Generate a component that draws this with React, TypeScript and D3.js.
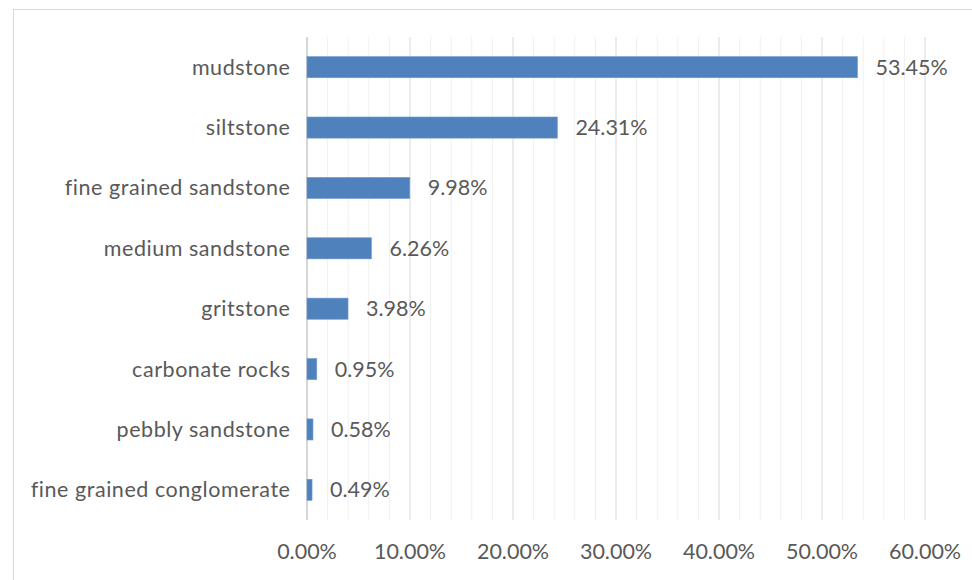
import React from "react";
import * as d3 from "d3";

const categories = [
  "mudstone",
  "siltstone",
  "fine grained sandstone",
  "medium sandstone",
  "gritstone",
  "carbonate rocks",
  "pebbly sandstone",
  "fine grained conglomerate",
];
const values = [53.45, 24.31, 9.98, 6.26, 3.98, 0.95, 0.58, 0.49];
const majorTicks = [0, 10, 20, 30, 40, 50, 60];
const minorTicks = d3.range(0, 61, 2);

const W = 972;
const H = 580;
const left = 307;
const right = 925;
const top = 37;
const bottom = 520;
const FONT = "Lato, 'Open Sans', sans-serif";
const TEXT = "#595959";
const FS = 21.5;

export default function App() {
  const x = d3.scaleLinear().domain([0, 60]).range([left, right]);
  const y = d3
    .scaleBand<string>()
    .domain(categories)
    .range([top, bottom])
    .paddingInner(0.65)
    .paddingOuter(0.325);
  return (
    <svg
      width={W}
      height={H}
      style={{ position: "absolute", left: 0, top: 0, background: "#fff" }}
    >
      <rect x={13.5} y={9.5} width={W} height={H} fill="#fff" stroke="#d9d9d9" />
      {minorTicks.map((t) => (
        <line
          key={"m" + t}
          x1={x(t)}
          x2={x(t)}
          y1={top}
          y2={bottom}
          stroke={t % 10 === 0 ? "#d9d9d9" : "#f0f0f0"}
          strokeWidth={1}
        />
      ))}
      <line x1={left} x2={left} y1={top} y2={bottom} stroke="#bfbfbf" />
      {categories.map((c, i) => {
        const yy = y(c)!;
        const bw = y.bandwidth();
        return (
          <g key={c}>
            <rect
              x={x(0)}
              y={yy}
              width={x(values[i]) - x(0)}
              height={bw}
              fill="#4F81BD"
              stroke="#6f9bd0"
              strokeWidth={0.6}
            />
            <text
              x={290.5}
              y={yy + bw / 2}
              dy="0.35em"
              textAnchor="end"
              fontFamily={FONT}
              fontSize={FS}
              letterSpacing={0.55}
              fill={TEXT}
            >
              {c}
            </text>
            <text
              x={x(values[i]) + 18}
              y={yy + bw / 2}
              dy="0.35em"
              textAnchor="start"
              fontFamily={FONT}
              fontSize={FS}
              fill={TEXT}
            >
              {values[i].toFixed(2) + "%"}
            </text>
          </g>
        );
      })}
      {majorTicks.map((t) => (
        <text
          key={"t" + t}
          x={x(t)}
          y={551}
          dy="0.35em"
          textAnchor="middle"
          fontFamily={FONT}
          fontSize={FS}
          fill={TEXT}
        >
          {t.toFixed(2) + "%"}
        </text>
      ))}
    </svg>
  );
}
